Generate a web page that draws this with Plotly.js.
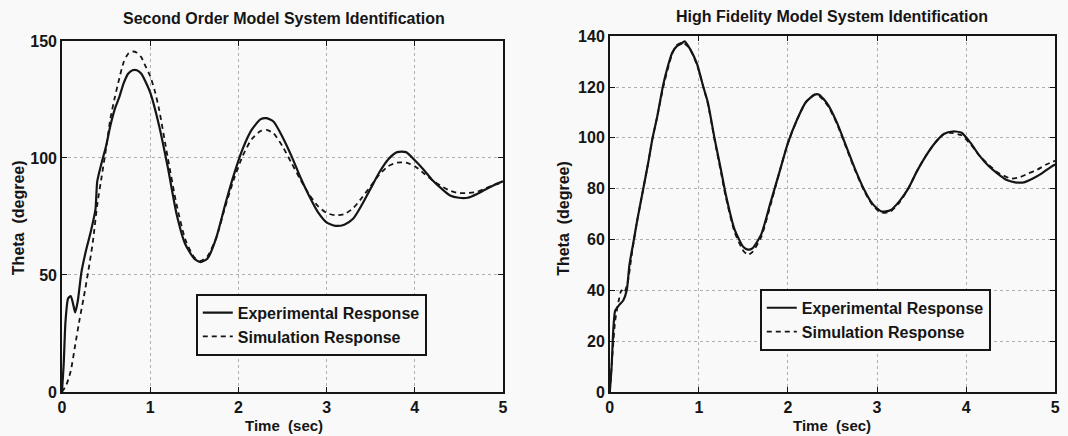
<!DOCTYPE html>
<html>
<head>
<meta charset="utf-8">
<script src="https://cdn.plot.ly/plotly-3.0.1.min.js"></script>
<style>html,body{margin:0;padding:0;background:#f9f9f9;}#chart{width:1068px;height:436px;}</style>
</head>
<body>
<div id="chart"></div>
<script>
// ---- Data ----
const leftTitle = "Second Order Model System Identification";
const rightTitle = "High Fidelity Model System Identification";
const seriesNames = ["Experimental Response", "Simulation Response"];

const leftExpT = [0,0.02,0.04,0.07,0.1,0.13,0.15,0.18,0.22,0.27,0.33,0.38,0.4,0.45,0.5,0.55,0.6,0.65,0.7,0.75,0.8,0.85,0.9,1.0,1.1,1.2,1.3,1.4,1.5,1.57,1.65,1.75,1.85,1.95,2.05,2.15,2.25,2.32,2.4,2.5,2.6,2.7,2.8,2.9,3.0,3.1,3.2,3.3,3.4,3.5,3.6,3.7,3.8,3.9,4.0,4.1,4.2,4.3,4.4,4.5,4.6,4.7,4.8,4.9,5.0];
const leftExpV = [0,12,30,40,41,37,34,39,51,60,69,78,90,98,105,114,121,126,132,136,137.5,137.5,136,128,114,96,76,63,57,55.5,57,66,80,93,104,112,116.5,117,115.5,109,101,92,84,77,72.5,71,71.5,74,80,87,94,99.5,102.5,102.5,99,95,90.5,87,84,83,83,84.5,86.5,88.5,90];

const leftSimT = [0,0.05,0.1,0.15,0.2,0.25,0.3,0.35,0.4,0.45,0.5,0.55,0.6,0.65,0.7,0.75,0.8,0.85,0.9,0.95,1.0,1.05,1.1,1.2,1.3,1.4,1.5,1.57,1.65,1.75,1.85,1.95,2.05,2.15,2.25,2.32,2.4,2.5,2.6,2.7,2.8,2.9,3.0,3.1,3.2,3.3,3.4,3.5,3.6,3.7,3.8,3.9,4.0,4.1,4.2,4.3,4.4,4.5,4.6,4.7,4.8,4.9,5.0];
const leftSimV = [0,3,9,20,31,41,52,64,80,92,104,117,126,134,141,144.5,145.5,145,143,139,135,129,121,100,80,65,57.5,56,58,66,79,91,101,108,111.5,112,110.5,105,98,91,84.5,79.5,76.5,75.5,76,78.5,83,88,93,96.5,98,98,96.5,93.5,90.5,88,86,85,85,85.5,87,88.5,89.5];

const rightExpT = [0,0.02,0.04,0.06,0.1,0.15,0.19,0.22,0.26,0.31,0.37,0.43,0.48,0.53,0.6,0.65,0.7,0.75,0.8,0.84,0.9,0.98,1.05,1.1,1.18,1.25,1.3,1.4,1.5,1.55,1.6,1.7,1.8,1.9,2.0,2.1,2.2,2.3,2.35,2.45,2.55,2.65,2.75,2.85,2.95,3.05,3.15,3.25,3.35,3.45,3.55,3.65,3.75,3.85,3.95,4.05,4.15,4.25,4.35,4.45,4.55,4.65,4.75,4.85,4.95,5.0];
const rightExpV = [0,10,25,32,34,36,40,50,58,68,79,90,100,108,121,128,133.5,136,137,138,135,129,120,114,99,87,78,64,57,56,56.5,62,74,86,98,107,114,117,117,113,106,97,88,80,74,71,71.5,75,80,87,93,98,101.5,102.5,102,98,93,89,86,83.5,82.5,82.5,84,86,88.5,89.5];

const rightSimT = [0,0.03,0.06,0.1,0.13,0.16,0.2,0.25,0.3,0.37,0.43,0.48,0.53,0.6,0.65,0.7,0.75,0.82,0.9,0.98,1.05,1.1,1.18,1.25,1.3,1.4,1.5,1.55,1.6,1.7,1.8,1.9,2.0,2.1,2.2,2.3,2.35,2.45,2.55,2.65,2.75,2.85,2.95,3.05,3.15,3.25,3.35,3.45,3.55,3.65,3.75,3.82,3.95,4.05,4.15,4.25,4.35,4.5,4.6,4.7,4.8,4.9,5.0];
const rightSimV = [0,15,28,36,40,39,43,55,66,79,90,100,108,120,127,133,136.5,137.5,135,128.5,120,113.5,98.5,86,77,63,55.5,54,55,61,73,86,98,107,114,117,116.5,112.5,105.5,96.5,87.5,79.5,73.5,70.5,71,74.5,80,87,93,98,101.5,102,101,97.5,93,89.5,86.5,84,84.5,86,87.5,89.5,91];

const leftYTicks = [0,50,100,150];
const rightYTicks = [0,20,40,60,80,100,120,140];
const xTicks = [0,1,2,3,4,5];

// ---- Styling ----
const FONT = "Liberation Sans, Arial, sans-serif";
const INK = "#151515";
const TXT = {family: FONT, size: 16, color: INK, weight: "bold"};
const TXT_SMALL = {family: FONT, size: 15, color: INK, weight: "bold"};
const solid = {color: INK, width: 2.2, dash: "solid", shape: "spline", smoothing: 0.6};
const dashed = {color: INK, width: 1.8, dash: "5px,4px", shape: "spline", smoothing: 0.6};

const traces = [
  {x: leftExpT, y: leftExpV, name: seriesNames[0], mode: "lines", line: solid, xaxis: "x", yaxis: "y", legend: "legend"},
  {x: leftSimT, y: leftSimV, name: seriesNames[1], mode: "lines", line: dashed, xaxis: "x", yaxis: "y", legend: "legend"},
  {x: rightExpT, y: rightExpV, name: seriesNames[0], mode: "lines", line: solid, xaxis: "x2", yaxis: "y2", legend: "legend2"},
  {x: rightSimT, y: rightSimV, name: seriesNames[1], mode: "lines", line: dashed, xaxis: "x2", yaxis: "y2", legend: "legend2"}
];

function axisBase() {
  return {ticks: "inside", ticklen: 5, tickcolor: INK, showline: true, mirror: "allticks",
    linecolor: INK, linewidth: 1.8, showgrid: true, gridcolor: "#b0b0b0", griddash: "dot",
    gridwidth: 1, zeroline: false, tickfont: TXT, fixedrange: true};
}
function xAxis(domain, anchor) {
  return Object.assign(axisBase(), {domain: domain, anchor: anchor, range: [0, 5], tickvals: xTicks});
}
function yAxis(domain, anchor, max, ticks) {
  return Object.assign(axisBase(), {domain: domain, anchor: anchor, range: [0, max], tickvals: ticks});
}

const legendStyle = {bgcolor: "#f9f9f9", bordercolor: INK, borderwidth: 1.8,
  font: TXT, itemwidth: 30, xanchor: "left", yanchor: "top", tracegroupgap: 0};

function note(text, x, y, angle, font) {
  return {text: text, xref: "paper", yref: "paper", x: x, y: y, textangle: angle || 0,
    xanchor: "center", yanchor: "middle", showarrow: false, font: font || TXT};
}

const layout = {
  width: 1068, height: 436,
  margin: {l: 0, r: 0, t: 0, b: 0},
  paper_bgcolor: "#f9f9f9", plot_bgcolor: "#f9f9f9",
  showlegend: true,
  xaxis: xAxis([0.058, 0.471], "y"),
  yaxis: yAxis([0.101, 0.906], "x", 150, leftYTicks),
  xaxis2: xAxis([0.571, 0.988], "y2"),
  yaxis2: yAxis([0.101, 0.917], "x2", 140, rightYTicks),
  legend: Object.assign({x: 0.1835, y: 0.326}, legendStyle),
  legend2: Object.assign({x: 0.7116, y: 0.337}, legendStyle),
  annotations: [
    note(leftTitle, 0.266, 0.958),
    note(rightTitle, 0.779, 0.963),
    note("Time&nbsp; (sec)", 0.266, 0.024, 0, TXT_SMALL),
    note("Time&nbsp; (sec)", 0.779, 0.024, 0, TXT_SMALL),
    note("Theta&nbsp; (degree)", 0.017, 0.5, -90),
    note("Theta&nbsp; (degree)", 0.527, 0.5, -90)
  ]
};

Plotly.newPlot("chart", traces, layout, {displayModeBar: false, staticPlot: true});
</script>
</body>
</html>
